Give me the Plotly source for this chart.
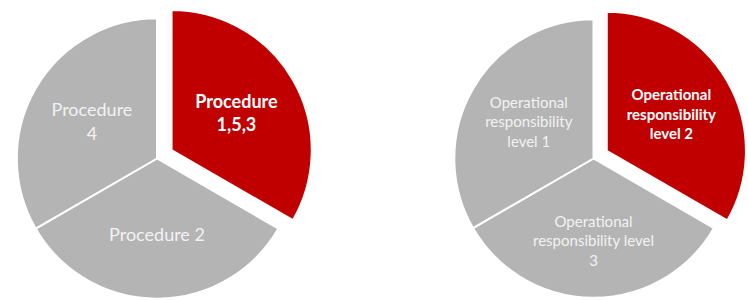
import plotly.graph_objects as go

# Data
proc_labels = ["Procedure 1,5,3", "Procedure 2", "Procedure 4"]
proc_text = ["<b>Procedure<br>1,5,3</b>", "Procedure 2", "Procedure<br>4"]
proc_values = [1, 1, 1]

ops_labels = ["Operational responsibility level 2",
              "Operational responsibility level 3",
              "Operational responsibility level 1"]
ops_text = ["<b>Operational<br>responsibility<br>level 2</b>",
            "Operational<br>responsibility level<br>3",
            "Operational<br>responsibility<br>level 1"]
ops_values = [1, 1, 1]

RED = "#C00000"
GRAY = "#B4B4B4"
W, H = 748, 317

fig = go.Figure()
fig.add_trace(go.Pie(
    labels=proc_labels, values=proc_values, text=proc_text,
    textinfo="text", textposition="inside", insidetextorientation="horizontal",
    sort=False, direction="clockwise", rotation=0,
    pull=[0.12, 0, 0],
    marker=dict(colors=[RED, GRAY, GRAY], line=dict(color="white", width=2)),
    textfont=dict(family="Lato", size=18, color=["white", "#F2F2F2", "#F2F2F2"]),
    domain=dict(x=[0, 314 / W], y=[0, 1]),
    hoverinfo="label", showlegend=False,
))
fig.add_trace(go.Pie(
    labels=ops_labels, values=ops_values, text=ops_text,
    textinfo="text", textposition="inside", insidetextorientation="horizontal",
    sort=False, direction="clockwise", rotation=0,
    pull=[0.11, 0, 0],
    marker=dict(colors=[RED, GRAY, GRAY], line=dict(color="white", width=2)),
    textfont=dict(family="Lato", size=15, color=["white", "#F2F2F2", "#F2F2F2"]),
    domain=dict(x=[439 / W, 1], y=[0, 1]),
    hoverinfo="label", showlegend=False,
))
fig.update_layout(
    width=W, height=H, margin=dict(l=0, r=0, t=0, b=0),
    paper_bgcolor="white", plot_bgcolor="white",
)
fig.write_html(
    "out.html",
    config={"displayModeBar": False},
    post_script="document.body.style.margin='0';document.body.style.overflow='hidden';",
)
